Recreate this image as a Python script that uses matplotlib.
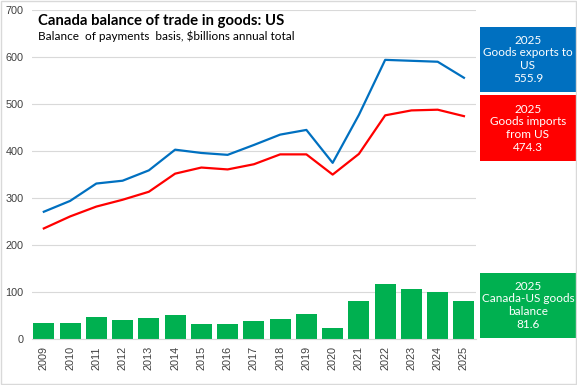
import matplotlib.pyplot as plt
from matplotlib.patches import Rectangle

years = list(range(2009, 2026))
exports = [271, 294, 331, 337, 359, 403, 396, 392, 413, 435, 445, 375, 477, 594, 592, 590, 555.9]
imports = [235.5, 261, 282, 296.5, 313.5, 352, 365, 361, 372, 393, 393, 350, 394, 476, 486.5, 488, 474.3]
balance = [35, 34, 48, 41, 45, 52, 32.6, 32.6, 39, 43, 54, 24, 81.6, 118, 107, 101, 81.6]

blue = '#0070C0'
red = '#FF0000'
green = '#00B050'

plt.rcParams['font.family'] = ['Liberation Sans', 'DejaVu Sans']

fig = plt.figure(figsize=(5.77, 3.85), dpi=100)
ax = fig.add_axes([0.055, 0.119, 0.77, 0.855])

ax.bar(years, balance, width=0.8, color=green, zorder=2)
ax.plot(years, exports, color=blue, lw=1.6, zorder=3)
ax.plot(years, imports, color=red, lw=1.6, zorder=3)

ax.set_xlim(2008.54, 2025.46)
ax.set_ylim(0, 700)
ax.set_yticks(range(0, 701, 100))
ax.set_xticks(years)
ax.set_xticklabels([str(y) for y in years], rotation=90)
ax.tick_params(axis='both', length=0, labelsize=7.8, colors='#404040')
ax.tick_params(axis='x', pad=5)
ax.tick_params(axis='y', pad=6)
ax.grid(axis='y', color='#D9D9D9', lw=0.8, zorder=0)
for s in ax.spines.values():
    s.set_visible(False)
ax.spines['bottom'].set_visible(True)
ax.spines['bottom'].set_color('#D9D9D9')

fig.text(0.066, 0.945, 'Canada balance of trade in goods: US', fontsize=10.7,
         fontweight='bold', family=['Lato', 'DejaVu Sans'], va='center')
fig.text(0.066, 0.905, 'Balance  of payments  basis, $billions annual total', fontsize=8.5,
         family=['Lato', 'DejaVu Sans'], va='center')

# side boxes
boxes = [
    (0.761, blue, '2025\nGoods exports to\nUS\n555.9'),
    (0.582, red, '2025\nGoods imports\nfrom US\n474.3'),
    (0.122, green, '2025\nCanada-US goods\nbalance\n81.6'),
]
for bottom, col, txt in boxes:
    fig.patches.append(Rectangle((0.832, bottom), 0.166, 0.170, transform=fig.transFigure,
                                 facecolor=col, edgecolor='none'))
    fig.text(0.915, bottom + 0.085, txt, color='white', fontsize=8.5, ha='center', va='center',
             linespacing=1.2, family=['Lato', 'DejaVu Sans'])

fig.patches.append(Rectangle((0.001, 0.002), 0.997, 0.996, transform=fig.transFigure,
                             facecolor='none', edgecolor='#D9D9D9', lw=1))

fig.savefig('out.png', dpi=100)
